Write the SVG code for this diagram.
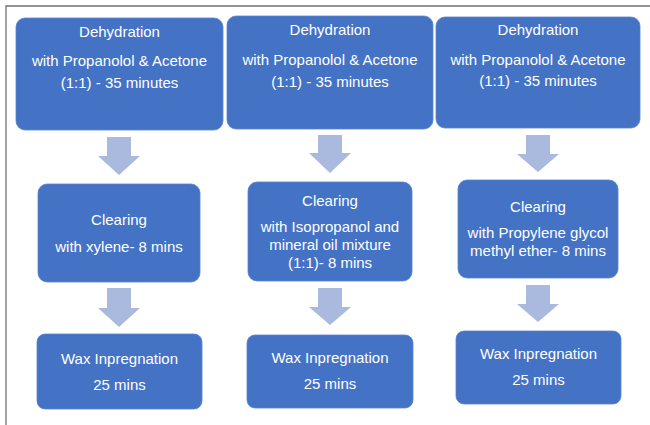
<svg xmlns="http://www.w3.org/2000/svg" width="650" height="425" viewBox="0 0 650 425">
<style>
.box{fill:#4472C4;stroke:#5B84CF;stroke-width:0.8}
.arrow{fill:#AAB9DE}
text{font-family:"Liberation Sans",Arial,sans-serif;font-size:15px;fill:#FFFFFF;text-anchor:middle}
.frame{stroke:#707070;stroke-width:1.3;fill:none}
</style>
<rect x="0" y="0" width="650" height="425" fill="#FFFFFF"/>
<path class="frame" d="M6,425 V6 H650"/>
<g id="dehydration-1">
<rect class="box" x="16" y="18" width="207" height="112" rx="9"/>
<text x="119.5" y="36.5">Dehydration</text>
<text x="119.5" y="65.5">with Propanolol &amp; Acetone</text>
<text x="119.5" y="87.5">(1:1) - 35 minutes</text>
</g>
<g id="dehydration-2">
<rect class="box" x="227" y="16" width="206" height="113" rx="9"/>
<text x="330" y="35">Dehydration</text>
<text x="330" y="64.5">with Propanolol &amp; Acetone</text>
<text x="330" y="86.5">(1:1) - 35 minutes</text>
</g>
<g id="dehydration-3">
<rect class="box" x="436" y="17" width="204" height="111" rx="9"/>
<text x="538" y="35">Dehydration</text>
<text x="538" y="64.5">with Propanolol &amp; Acetone</text>
<text x="538" y="86">(1:1) - 35 minutes</text>
</g>
<g id="clearing-1">
<rect class="box" x="38" y="184" width="162" height="98" rx="9"/>
<text x="119" y="225">Clearing</text>
<text x="119" y="251.5">with xylene- 8 mins</text>
</g>
<g id="clearing-2">
<rect class="box" x="248" y="182" width="164" height="99" rx="9"/>
<text x="330" y="206">Clearing</text>
<text x="330" y="231.5">with Isopropanol and</text>
<text x="330" y="250">mineral oil mixture</text>
<text x="330" y="268">(1:1)- 8 mins</text>
</g>
<g id="clearing-3">
<rect class="box" x="458" y="180" width="160" height="98" rx="9"/>
<text x="538" y="212">Clearing</text>
<text x="538" y="238">with Propylene glycol</text>
<text x="538" y="255.5">methyl ether- 8 mins</text>
</g>
<g id="wax-1">
<rect class="box" x="37" y="334" width="165" height="75" rx="8"/>
<text x="119.5" y="363.5">Wax Inpregnation</text>
<text x="119.5" y="390">25 mins</text>
</g>
<g id="wax-2">
<rect class="box" x="247" y="335" width="166" height="73" rx="8"/>
<text x="330" y="363">Wax Inpregnation</text>
<text x="330" y="389">25 mins</text>
</g>
<g id="wax-3">
<rect class="box" x="456" y="331" width="165" height="73" rx="8"/>
<text x="538.5" y="358.5">Wax Inpregnation</text>
<text x="538.5" y="385">25 mins</text>
</g>
<g id="connectors">
<path class="arrow" d="M107,137 H131 V156 H140 L119,175 L98,156 H107 Z"/>
<path class="arrow" d="M107,288 H131 V308 H140 L119,327 L98,308 H107 Z"/>
<path class="arrow" d="M318,135 H342 V153 H351 L330,173 L309,153 H318 Z"/>
<path class="arrow" d="M318,288 H342 V307 H351 L330,325 L309,307 H318 Z"/>
<path class="arrow" d="M526,135 H550 V154 H559 L538,172 L517,154 H526 Z"/>
<path class="arrow" d="M526,285 H550 V304 H559 L538,322 L517,304 H526 Z"/>
</g>
</svg>
